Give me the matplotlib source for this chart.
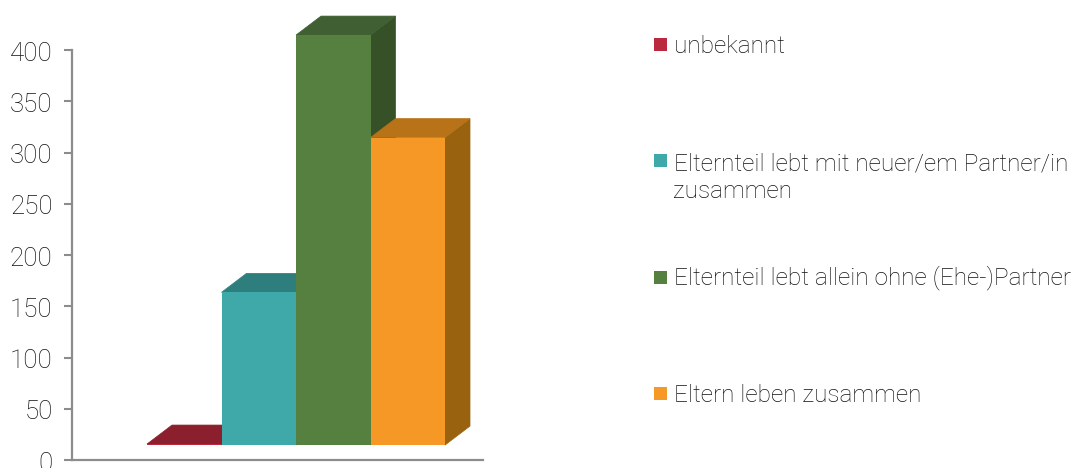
import matplotlib
matplotlib.use("Agg")
import matplotlib.pyplot as plt
from matplotlib.patches import Rectangle
from matplotlib.transforms import Affine2D, ScaledTranslation

series = ["unbekannt", "Elternteil lebt mit neuer/em Partner/in\nzusammen",
          "Elternteil lebt allein ohne (Ehe-)Partner", "Eltern leben zusammen"]
values = [1, 149, 400, 300]
front_colors = ["#BB2A3C", "#3FA9A9", "#558040", "#F59825"]
top_colors = ["#8C1F2D", "#2F7E7E", "#406033", "#B87218"]
side_colors = ["#6E1823", "#276868", "#365127", "#98620F"]
yticks = [0, 50, 100, 150, 200, 250, 300, 350, 400]

W, H = 1074, 468
plt.rcParams["font.family"] = ["Roboto", "DejaVu Sans"]
plt.rcParams["font.weight"] = "light"
fig = plt.figure(figsize=(W / 100, H / 100), dpi=100)
ax = fig.add_axes([72 / W, (H - 460) / H, (483 - 72) / W, 410 / H])
ax.set_xlim(-1.507, 4.01)
ax.set_ylim(0, 400)
for s in ("top", "right"):
    ax.spines[s].set_visible(False)
for s in ("left", "bottom"):
    ax.spines[s].set_color("#8C8C8C")
    ax.spines[s].set_linewidth(1.6)
    ax.spines[s].set_zorder(0)
ax.set_xticks([])
ax.set_yticks(yticks)
ax.tick_params(axis="y", length=5.5, width=1.5, color="#8C8C8C", pad=8.4,
               labelsize=18.6, labelcolor="#111111")
shift = ScaledTranslation(0, -1.2 / 100, fig.dpi_scale_trans)
for lab in ax.get_yticklabels():
    lab.set_clip_on(False)
    lab.set_fontweight("light")
    lab.set_transform(lab.get_transform() + shift)

floor = 14.6     # height of the front base above the axis, data units
dx, dy = 0.3356, 18.5   # oblique depth of the 3D bars
for i, v in enumerate(values):
    l, r = i - 0.5, i + 0.5
    b, t = floor, floor + v
    ax.fill([r, r + dx, r + dx, r], [b, b + dy, t + dy, t], facecolor=side_colors[i],
            edgecolor=side_colors[i], lw=0.5, clip_on=False, zorder=2 + i)
    ax.fill([l, r, r + dx, l + dx], [t, t, t + dy, t + dy], facecolor=top_colors[i],
            edgecolor=top_colors[i], lw=0.5, clip_on=False, zorder=2 + i)
    ax.bar(i, v, width=1.0, bottom=b, color=front_colors[i], lw=0,
           clip_on=False, zorder=2 + i)

to_fig = Affine2D().scale(1 / W, -1 / H).translate(0, 1) + fig.transFigure
swatch_tops = [38, 154, 271, 387]
last_baselines = [53, 198, 284.5, 402]
for name, color, st, bl in zip(series, front_colors, swatch_tops, last_baselines):
    fig.add_artist(Rectangle((654, st), 13, 13, transform=to_fig, color=color, lw=0))
    fig.text(673.5 / W, 1 - bl / H, name, fontsize=17.6, color="#111111",
             fontweight="light", va="baseline", ha="left", linespacing=1.27)

fig.savefig("out.png", dpi=100)
